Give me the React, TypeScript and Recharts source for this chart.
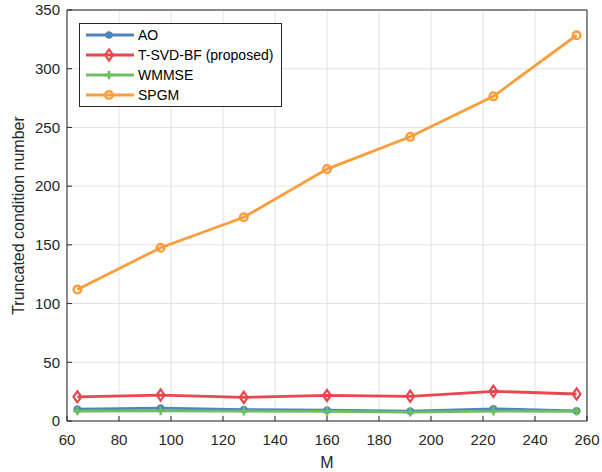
import React from "react"
import { LineChart, Line, XAxis, YAxis, CartesianGrid, Legend } from "recharts"

const mValues = [64, 96, 128, 160, 192, 224, 256]
const aoValues = [10.1, 10.9, 9.7, 9.2, 8.4, 10.4, 8.6]
const tsvdValues = [20.6, 22.1, 20.1, 21.8, 21.0, 25.3, 23.0]
const wmmseValues = [8.5, 8.6, 8.4, 8.2, 7.5, 8.4, 8.3]
const spgmValues = [112, 147.5, 173.5, 214.5, 242, 276.5, 328.5]

const xTicks = [60, 80, 100, 120, 140, 160, 180, 200, 220, 240, 260]
const yTicks = [0, 50, 100, 150, 200, 250, 300, 350]

type Marker = "dot" | "diamond" | "plus" | "ring"

const series: { key: string; name: string; color: string; marker: Marker }[] = [
  { key: "ao", name: "AO", color: "#4f86b9", marker: "dot" },
  { key: "tsvd", name: "T-SVD-BF (proposed)", color: "#e8474d", marker: "diamond" },
  { key: "wmmse", name: "WMMSE", color: "#6cbe60", marker: "plus" },
  { key: "spgm", name: "SPGM", color: "#fa9e3c", marker: "ring" },
]

const data = mValues.map((m, i) => ({
  m,
  ao: aoValues[i],
  tsvd: tsvdValues[i],
  wmmse: wmmseValues[i],
  spgm: spgmValues[i],
}))

const FONT = '"Liberation Sans", Arial, Helvetica, sans-serif'
const AXIS = "#262626"

function drawMarker(kind: Marker, cx: number, cy: number, color: string, key?: string) {
  if (kind === "dot") return <circle key={key} cx={cx} cy={cy} r={3.6} fill={color} stroke={color} strokeWidth={0.5} />
  if (kind === "diamond")
    return (
      <path
        key={key}
        d={`M${cx},${cy - 5.6} L${cx + 3.9},${cy} L${cx},${cy + 5.6} L${cx - 3.9},${cy} Z`}
        fill="none"
        stroke={color}
        strokeWidth={2.2}
      />
    )
  if (kind === "plus")
    return (
      <path
        key={key}
        d={`M${cx - 4.3},${cy} H${cx + 4.3} M${cx},${cy - 4.3} V${cy + 4.3}`}
        stroke={color}
        strokeWidth={2.5}
        fill="none"
      />
    )
  return <circle key={key} cx={cx} cy={cy} r={3.8} fill="none" stroke={color} strokeWidth={2.5} />
}

function LegendBox() {
  return (
    <div
      style={{
        width: 201,
        height: 81,
        border: `1px solid ${AXIS}`,
        background: "#fff",
        fontFamily: FONT,
        fontSize: 14,
        color: "#000",
        paddingTop: 1,
        boxSizing: "content-box",
      }}
    >
      {series.map((s) => (
        <div key={s.key} style={{ height: 20, display: "flex", alignItems: "center" }}>
          <svg width={58} height={20} style={{ display: "block" }}>
            <line x1={6} x2={54} y1={10} y2={10} stroke={s.color} strokeWidth={2.8} />
            {drawMarker(s.marker, 29, 10, s.color)}
          </svg>
          <span style={{ lineHeight: "20px", whiteSpace: "nowrap" }}>{s.name}</span>
        </div>
      ))}
    </div>
  )
}

export default function App() {
  return (
    <div style={{ position: "absolute", left: 0, top: 0, width: 602, height: 472, background: "#fff" }}>
      <LineChart width={602} height={472} data={data} margin={{ top: 9, right: 14, bottom: 0, left: 0 }}>
        <CartesianGrid stroke="#e2e2e2" strokeWidth={1} />
        <XAxis
          dataKey="m"
          type="number"
          domain={[60, 260]}
          ticks={xTicks}
          height={51}
          tickSize={-5}
          tickMargin={18}
          stroke={AXIS}
          tick={{ fill: AXIS, fontSize: 15, fontFamily: FONT }}
          label={{ value: "M", position: "insideBottom", offset: 4, fill: AXIS, fontSize: 16, fontFamily: FONT }}
        />
        <XAxis
          xAxisId="top"
          orientation="top"
          dataKey="m"
          type="number"
          domain={[60, 260]}
          ticks={xTicks}
          height={1}
          tickSize={-5}
          tick={false}
          stroke={AXIS}
        />
        <YAxis
          type="number"
          domain={[0, 350]}
          ticks={yTicks}
          width={67}
          tickSize={-5}
          tickMargin={12}
          stroke={AXIS}
          tick={{ fill: AXIS, fontSize: 15, fontFamily: FONT }}
          label={{
            value: "Truncated condition number",
            angle: -90,
            position: "insideLeft",
            offset: 18,
            fill: AXIS,
            fontSize: 16,
            fontFamily: FONT,
            style: { textAnchor: "middle" },
          }}
        />
        <YAxis
          yAxisId="right"
          orientation="right"
          type="number"
          domain={[0, 350]}
          ticks={yTicks}
          width={1}
          tickSize={-5}
          tick={false}
          stroke={AXIS}
        />
        <Legend
          layout="vertical"
          align="center"
          verticalAlign="middle"
          wrapperStyle={{ left: 79, top: 23, width: 203, height: 83 }}
          content={() => <LegendBox />}
        />
        {series.map((s) => (
          <Line
            key={s.key}
            dataKey={s.key}
            name={s.name}
            stroke={s.color}
            strokeWidth={2.8}
            isAnimationActive={false}
            dot={(p: any) => drawMarker(s.marker, p.cx, p.cy, s.color, `${s.key}-${p.index}`)}
            activeDot={false}
          />
        ))}
      </LineChart>
    </div>
  )
}
